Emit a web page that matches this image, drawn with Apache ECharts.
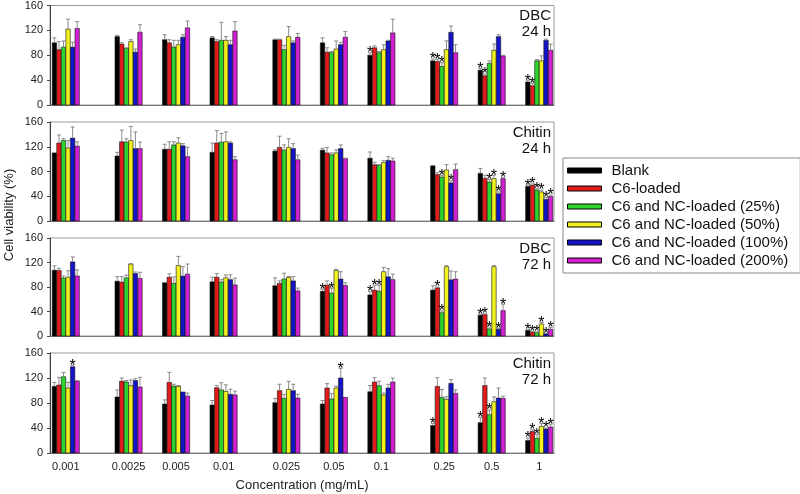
<!DOCTYPE html>
<html><head><meta charset="utf-8">
<script src="https://cdn.jsdelivr.net/npm/echarts@6/dist/echarts.min.js"></script>
<style>html,body{margin:0;padding:0;background:#fff}#c{width:800px;height:494px}</style>
</head><body><div id="c"></div>
<script>
// ---- data ----
const CONC = [0.001, 0.0025, 0.005, 0.01, 0.025, 0.05, 0.1, 0.25, 0.5, 1];
const CONC_LABELS = ['0.001', '0.0025', '0.005', '0.01', '0.025', '0.05', '0.1', '0.25', '0.5', '1'];
const SERIES_NAMES = ['Blank', 'C6-loaded', 'C6 and NC-loaded (25%)', 'C6 and NC-loaded (50%)', 'C6 and NC-loaded (100%)', 'C6 and NC-loaded (200%)'];
const Y_TICKS = [0, 40, 80, 120, 160];
const PANEL_TITLES = ['DBC\n24 h', 'Chitin\n24 h', 'DBC\n72 h', 'Chitin\n72 h'];

const DBC24_MEAN = [
  [100, 110, 105, 108, 105, 100, 80, 71, 56, 37],
  [89, 98, 100, 102, 105, 85, 92, 70, 47, 31],
  [93, 91, 93, 104, 89, 84, 84, 62, 67, 71],
  [122, 102, 97, 104, 110, 90, 89, 89, 88, 71],
  [93, 85, 109, 97, 100, 97, 103, 117, 110, 104],
  [123, 117, 124, 119, 109, 109, 116, 84, 79, 88]
];
const DBC24_SD = [
  [8, 2, 8, 2, 1, 8, 4, 3, 3, 3],
  [13, 2, 5, 3, 1, 7, 3, 3, 3, 4],
  [10, 1, 11, 29, 7, 2, 2, 6, 4, 2],
  [16, 3, 7, 6, 16, 13, 8, 14, 10, 8],
  [8, 5, 4, 7, 3, 4, 1, 10, 3, 2],
  [11, 12, 11, 15, 6, 9, 22, 13, 1, 10]
];
const DBC24_STARS = [[6, 7, 8, 9], [7, 8, 9], [7], [], [], []];

const CHI24_MEAN = [
  [110, 105, 116, 111, 113, 114.5, 101.5, 89, 77, 56],
  [126, 128, 116, 126, 119, 110, 91, 75, 69, 58],
  [130, 127.5, 123, 127.5, 114.5, 107, 90, 71, 63, 50],
  [118, 130, 126, 128, 119, 110, 94.5, 82.5, 68.5, 47],
  [134, 117, 121.5, 126, 117, 117, 98, 61.5, 44, 35],
  [121, 117, 104, 99, 99, 101, 97, 83, 68.5, 39.5]
];
const CHI24_SD = [
  [0, 6, 8, 15, 2, 3, 10, 1, 8, 2],
  [13, 19, 12, 20, 18, 9, 4, 3, 5, 2],
  [3, 5.5, 5, 14, 8.5, 3, 1, 3, 4, 2],
  [12, 23, 8.5, 16, 14, 5, 3.5, 8.5, 5.5, 3],
  [18, 27, 3.5, 2, 8, 6, 6, 3.5, 3, 3],
  [7, 10.5, 15, 5, 7.5, 0.5, 4.5, 9, 1.5, 2.5]
];
const CHI24_STARS = [[9], [9], [7, 8, 9], [8, 9], [7, 8, 9], [8, 9]];

const DBC72_MEAN = [
  [107.5, 89.5, 87, 88.4, 82, 73, 67, 75, 34, 9.3],
  [107, 88, 96, 96, 86, 83, 75, 78.6, 35.5, 6.5],
  [94.5, 95, 86, 88, 93, 70, 73, 38, 11.5, 6],
  [96, 117.5, 115, 95, 95.5, 107, 105, 113, 113, 19.6],
  [121, 102, 97.8, 92, 90, 93, 96.6, 91.7, 11, 4],
  [98, 94, 101, 83.5, 73.7, 82.4, 92, 93, 41.5, 11]
];
const DBC72_SD = [
  [7, 7.5, 0.5, 7.5, 13, 3.5, 5.5, 7, 1.5, 1],
  [3.5, 9, 5.5, 6, 4, 7, 7, 1.5, 0.5, 0.5],
  [3.5, 4.5, 10.5, 4, 9.5, 8, 10, 3, 1.5, 0.5],
  [10.5, 0.5, 15, 4.5, 1.5, 2, 7, 2, 2, 2.5],
  [8, 2.5, 15.5, 8, 7, 12, 13.5, 14.5, 1.5, 0.5],
  [10, 10, 16.5, 11, 4.5, 4.5, 9, 12, 10.5, 3]
];
const DBC72_STARS = [[5, 6, 8, 9], [6, 7, 8, 9], [5, 6, 7, 8, 9], [9], [8, 9], [8, 9]];

const CHI72_MEAN = [
  [106.6, 89.6, 78.4, 76.8, 80.5, 78.4, 98, 44, 48.5, 20],
  [108.8, 115, 113, 104.5, 99.7, 104, 113.6, 106.6, 108, 34.6],
  [122, 113.6, 107, 101, 87.4, 86.4, 107.7, 89, 61.3, 23.4],
  [104, 107.7, 106.6, 98.6, 101.8, 104, 92.8, 85.8, 82, 42.6],
  [138, 116, 97.6, 93.8, 99.7, 120, 104, 111.4, 88, 38.4],
  [115, 105.6, 91, 93, 88, 89, 113.6, 95.4, 87.4, 41.6]
];
const CHI72_SD = [
  [6.4, 11.2, 6.6, 7.2, 6.9, 5.6, 10, 3.5, 8.5, 4],
  [12.2, 5, 16, 3.5, 10.3, 7, 6.9, 13.9, 12, 2.4],
  [7, 2.4, 3, 11.5, 6.6, 8.6, 7.3, 12.8, 7.5, 6.6],
  [9, 9.3, 1.4, 10.4, 12.8, 3, 3.2, 4.2, 7.8, 4.4],
  [2.5, 3, 0, 8.2, 10.3, 15.4, 6, 6.2, 16, 1.6],
  [1, 15.4, 5, 6, 6, 0, 6.4, 5.6, 3.6, 4.4]
];
const CHI72_STARS = [[7, 8, 9], [9], [8, 9], [9], [0, 5, 9], [9]];

const PANELS = [
  { mean: DBC24_MEAN, sd: DBC24_SD, stars: DBC24_STARS },
  { mean: CHI24_MEAN, sd: CHI24_SD, stars: CHI24_STARS },
  { mean: DBC72_MEAN, sd: DBC72_SD, stars: DBC72_STARS },
  { mean: CHI72_MEAN, sd: CHI72_SD, stars: CHI72_STARS }
];

// ---- styling / layout ----
const COLORS = ['#000000', '#e01b1b', '#2ed42e', '#f2f21e', '#1414c8', '#d21fd2'];
const GRIDS = [{ top: 5, height: 100 }, { top: 122, height: 99 }, { top: 238, height: 98 }, { top: 353, height: 100 }];
const GRID_LEFT = 50, GRID_RIGHT = 246;
const X_MIN = -3.1001, X_MAX = 0.0938;
const STEP = 4.55, BAR_W = 4.4;
const FONT = 'Liberation Sans';

const LOGX = CONC.map(c => Math.log10(c));

function labelFor(v) {
  let best = 0, bd = Infinity;
  LOGX.forEach((lx, i) => { const d = Math.abs(lx - v); if (d < bd) { bd = d; best = i; } });
  return CONC_LABELS[best];
}

function makeRender(si) {
  return function (params, api) {
    const x = api.value(0), m = api.value(1), sd = api.value(2), st = api.value(3);
    const p0 = api.coord([x, 0]), p1 = api.coord([x, m]), p2 = api.coord([x, m + sd]);
    const cx = p0[0] + (si - 2.5) * STEP;
    const children = [{
      type: 'rect',
      shape: { x: cx - BAR_W / 2, y: p1[1], width: BAR_W, height: p0[1] - p1[1] },
      style: { fill: COLORS[si], stroke: '#111', lineWidth: 0.6 }
    }];
    if (sd > 0.3) {
      children.push({ type: 'line', shape: { x1: cx, y1: p1[1], x2: cx, y2: p2[1] }, style: { stroke: '#8a8a8a', lineWidth: 1 } });
      children.push({ type: 'line', shape: { x1: cx - 2, y1: p2[1], x2: cx + 2, y2: p2[1] }, style: { stroke: '#8a8a8a', lineWidth: 1 } });
    }
    if (st) {
      children.push({ type: 'text', x: cx, y: p2[1] + 1, style: { text: '*', fontSize: 16, fontFamily: FONT, fill: '#000', align: 'center', verticalAlign: 'middle' } });
    }
    return { type: 'group', children };
  };
}

const grid = [], xAxis = [], yAxis = [], series = [], graphic = [];
GRIDS.forEach((g, k) => {
  grid.push({ left: GRID_LEFT, right: GRID_RIGHT, top: g.top, height: g.height, show: true, borderColor: '#999', borderWidth: 1, backgroundColor: 'transparent' });
  const last = k === GRIDS.length - 1;
  xAxis.push({
    type: 'value', gridIndex: k, min: X_MIN, max: X_MAX,
    axisLine: { show: true, onZero: false, lineStyle: { color: '#777' } },
    axisTick: { show: false }, splitLine: { show: false },
    axisLabel: last ? { show: true, customValues: LOGX, formatter: labelFor, fontSize: 11, color: '#222', margin: 8 } : { show: false },
    name: last ? 'Concentration (mg/mL)' : '', nameLocation: 'middle', nameGap: 26,
    nameTextStyle: { fontSize: 13, color: '#222' }
  });
  yAxis.push({
    type: 'value', gridIndex: k, min: Y_TICKS[0], max: Y_TICKS[Y_TICKS.length - 1], interval: Y_TICKS[1] - Y_TICKS[0],
    axisLine: { show: true, onZero: false, lineStyle: { color: '#444' } },
    axisTick: { show: true, length: 3, lineStyle: { color: '#444' } },
    splitLine: { show: false },
    axisLabel: { fontSize: 11, color: '#222', margin: 7 }
  });
  const P = PANELS[k];
  SERIES_NAMES.forEach((name, si) => {
    const data = CONC.map((c, ci) => [LOGX[ci], P.mean[si][ci], P.sd[si][ci], P.stars[si].includes(ci) ? 1 : 0]);
    series.push({
      type: 'custom', name, xAxisIndex: k, yAxisIndex: k,
      itemStyle: { color: COLORS[si] },
      encode: { x: 0, y: 1 },
      renderItem: makeRender(si), data, clip: false
    });
  });
  graphic.push({
    type: 'text', x: 551, y: g.top + 3,
    style: { text: PANEL_TITLES[k], align: 'right', verticalAlign: 'top', fontSize: 15, lineHeight: 16, fontFamily: FONT, fill: '#111' }
  });
});
graphic.push({
  type: 'text', x: 9, y: 215, rotation: Math.PI / 2,
  style: { text: 'Cell viability (%)', align: 'center', verticalAlign: 'middle', fontSize: 13, fontFamily: FONT, fill: '#222' }
});

const chart = echarts.init(document.getElementById('c'), null, { renderer: 'canvas' });
chart.setOption({
  animation: false,
  textStyle: { fontFamily: FONT },
  grid, xAxis, yAxis, series, graphic,
  legend: {
    data: SERIES_NAMES, orient: 'vertical', left: 563, top: 158,
    itemWidth: 34, itemHeight: 5, itemGap: 3, padding: [5, 12, 5, 4],
    borderColor: '#888', borderWidth: 1, icon: 'rect',
    itemStyle: { borderColor: '#000', borderWidth: 1 },
    textStyle: { fontSize: 15, color: '#111', fontFamily: FONT, padding: [0, 0, 0, 5] }
  }
});
</script></body></html>
